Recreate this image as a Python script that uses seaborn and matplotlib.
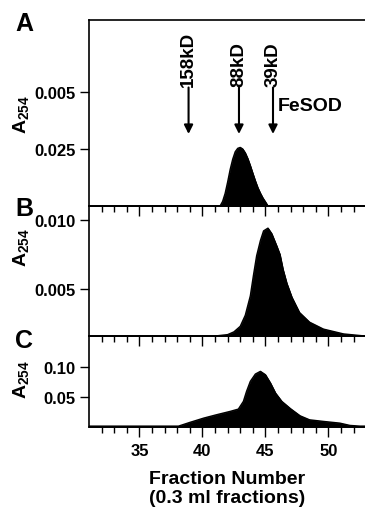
import numpy as np
import pandas as pd
import seaborn as sns
import matplotlib.pyplot as plt

# elution profiles (fraction number vs A254)
fr_a = [31.0, 41.4, 41.6, 41.8, 42.0, 42.2, 42.4, 42.6, 42.8, 43.0, 43.2, 43.4,
        43.6, 43.8, 44.0, 44.2, 44.4, 44.6, 44.8, 45.0, 45.2, 52.9]
abs_a = [0.0, 0.0, 0.002, 0.0055, 0.0105, 0.016, 0.0205, 0.0238, 0.0253, 0.0257,
         0.025, 0.0233, 0.0208, 0.0177, 0.0143, 0.011, 0.008, 0.0056, 0.0035,
         0.0018, 0.0, 0.0]

fr_b = [31.0, 41.0, 42.0, 42.5, 43.0, 43.4, 43.8, 44.05, 44.3, 44.6, 44.85, 45.2,
        45.5, 45.9, 46.15, 46.4, 46.7, 47.1, 47.7, 48.5, 49.6, 51.2, 52.9]
abs_b = [0.0016, 0.0016, 0.0017, 0.0019, 0.0023, 0.0031, 0.0045, 0.006, 0.0074,
         0.0085, 0.0092, 0.0094, 0.009, 0.0081, 0.0075, 0.0064, 0.0054, 0.0044,
         0.0033, 0.0026, 0.0021, 0.00175, 0.0016]

fr_c = [31.0, 38.1, 39.0, 40.1, 41.1, 42.2, 42.85, 43.25, 43.5, 43.8, 44.2, 44.6,
        45.0, 45.4, 45.8, 46.3, 47.0, 47.75, 48.5, 49.6, 50.9, 51.7, 52.5, 52.9]
abs_c = [0.0, 0.0, 0.0063, 0.0136, 0.0192, 0.025, 0.0289, 0.042, 0.059, 0.076,
         0.0884, 0.093, 0.0872, 0.0731, 0.0561, 0.042, 0.0294, 0.0175, 0.0107,
         0.008, 0.0051, 0.0012, 0.0, 0.0]

# size standards marked in panel A
marker_fracs = [38.9, 42.9, 45.6]
marker_labels = ['158kD', '88kD', '39kD']

yticks_a = [0.025, 0.05]
yticklabels_a = ['0.025', '0.005']
yticks_b = [0.005, 0.010]
yticklabels_b = ['0.005', '0.010']
yticks_c = [0.05, 0.10]
yticklabels_c = ['0.05', '0.10']

sns.set_style('ticks')
plt.rcParams['font.family'] = ['Liberation Sans', 'DejaVu Sans']
plt.rcParams['font.weight'] = 'bold'
plt.rcParams['mathtext.fontset'] = 'custom'
plt.rcParams['mathtext.rm'] = 'Liberation Sans:bold'
plt.rcParams['mathtext.bf'] = 'Liberation Sans:bold'
for k in ['text.color', 'axes.labelcolor', 'xtick.color', 'ytick.color',
          'axes.edgecolor']:
    plt.rcParams[k] = 'black'

W, H = 365, 510
fig = plt.figure(figsize=(W / 100, H / 100), dpi=100)

left = 89 / W
width = 1 - left


def make_ax(top_px, bot_px):
    return fig.add_axes([left, 1 - bot_px / H, width, (bot_px - top_px) / H])


ax_a = make_ax(21, 207)
ax_b = make_ax(207, 337)
ax_c = make_ax(337, 428)

panels = [
    (ax_a, fr_a, abs_a, (0.0, 0.0816), yticks_a, yticklabels_a),
    (ax_b, fr_b, abs_b, (0.0016, 0.011), yticks_b, yticklabels_b),
    (ax_c, fr_c, abs_c, (-0.0015, 0.153), yticks_c, yticklabels_c),
]

for ax, fr, ab, ylim, yt, ytl in panels:
    df = pd.DataFrame({'fraction': fr, 'a254': ab})
    ax.fill_between(df['fraction'], df['a254'], ylim[0], facecolor='black',
                    edgecolor='black', lw=0.6, zorder=1)
    sns.lineplot(data=df, x='fraction', y='a254', ax=ax, color='black', lw=1.0,
                 zorder=2)
    ax.set_xlim(31, 52.9)
    ax.set_ylim(*ylim)
    ax.set_yticks(yt)
    ax.set_yticklabels(ytl)
    ax.set_xticks([35, 40, 45, 50])
    ax.set_xticks(np.arange(32, 53), minor=True)
    ax.set_xlabel('')
    ax.set_ylabel('')
    ax.spines['right'].set_visible(False)
    for s in ['left', 'top', 'bottom']:
        ax.spines[s].set_linewidth(1.2)
    ax.tick_params(axis='x', which='major', direction='out', length=7.5, width=1,
                   labelsize=12, pad=4)
    ax.tick_params(axis='x', which='minor', direction='out', length=4.5, width=1)
    ax.tick_params(axis='y', direction='out', length=6.5, width=1, labelsize=12, pad=3)
    ax.set_facecolor('none')

ax_a.tick_params(axis='x', labelbottom=False)
ax_b.tick_params(axis='x', labelbottom=False)

# arrows for the size standards
for f, lab in zip(marker_fracs, marker_labels):
    ax_a.annotate('', xy=(f, 0.0316), xytext=(f, 0.052),
                  arrowprops=dict(arrowstyle='-|>', color='black', lw=1.5,
                                  mutation_scale=13, shrinkA=0, shrinkB=0))
    ax_a.text(f, 0.0526, lab, rotation=90, ha='center', va='bottom',
              fontsize=13.5, fontweight='bold')
ax_a.text(46.0, 0.0439, 'FeSOD', ha='left', va='center', fontsize=14,
          fontweight='bold')

# panel letters and y labels
for lab, ypx in [('A', 24), ('B', 209), ('C', 341)]:
    fig.text(24 / W, 1 - ypx / H, lab, ha='center', va='center', fontsize=18,
             fontweight='bold')
for ypx in [115, 248, 380]:
    fig.text(21 / W, 1 - ypx / H, r'$\mathbf{A_{254}}$', rotation=90,
             ha='center', va='center', fontsize=14)

ax_c.set_xlabel('Fraction Number\n(0.3 ml fractions)', fontsize=14,
                fontweight='bold', labelpad=9, linespacing=1.1)

fig.savefig('out.png', dpi=100)
